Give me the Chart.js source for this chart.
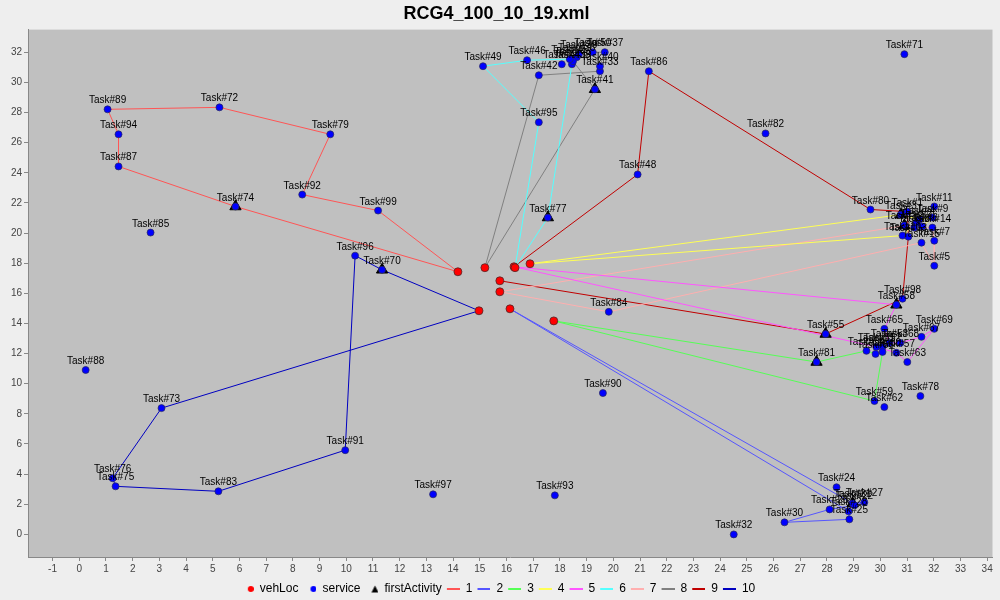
<!DOCTYPE html>
<html><head><meta charset="utf-8">
<script src="https://cdn.jsdelivr.net/npm/chart.js@4.4.1/dist/chart.umd.min.js"></script>
<style>html,body{margin:0;padding:0;background:#EEEEEE;}canvas{display:block;}</style>
</head><body>
<canvas id="c" width="1000" height="600"></canvas>
<script>
const chartTitle = "RCG4_100_10_19.xml";

const taskNames = ["Task#1","Task#2","Task#3","Task#4","Task#5","Task#6","Task#7","Task#8","Task#9","Task#10",
  "Task#11","Task#12","Task#13","Task#14","Task#15","Task#21","Task#22","Task#24","Task#25","Task#26",
  "Task#27","Task#28","Task#30","Task#32","Task#33","Task#36","Task#37","Task#38","Task#39","Task#40",
  "Task#41","Task#42","Task#43","Task#44","Task#45","Task#46","Task#48","Task#49","Task#50","Task#51",
  "Task#52","Task#53","Task#54","Task#55","Task#56","Task#57","Task#58","Task#59","Task#60","Task#62",
  "Task#63","Task#65","Task#67","Task#68","Task#69","Task#70","Task#71","Task#72","Task#73","Task#74",
  "Task#75","Task#76","Task#77","Task#78","Task#79","Task#80","Task#81","Task#82","Task#83","Task#84",
  "Task#85","Task#86","Task#87","Task#88","Task#89","Task#90","Task#91","Task#92","Task#93","Task#94",
  "Task#95","Task#96","Task#97","Task#98","Task#99"];
const taskX = [31.01,31.35,30.77,31.46,32.02,31.57,32.02,31.27,31.95,30.83,
  32.02,30.9,31.05,31.95,31.54,28.96,29.03,28.36,28.84,28.1,
  29.4,28.81,26.41,24.51,19.5,18.63,19.68,18.45,18.71,19.5,
  19.31,17.21,18.49,18.07,18.37,16.77,20.91,15.12,19.23,29.85,
  30.08,30.34,29.48,27.95,29.82,30.6,30.6,29.78,30.08,30.15,
  31.01,30.15,31.54,30.75,32.02,11.34,30.9,5.25,3.08,5.85,
  1.36,1.25,17.55,31.5,9.4,29.63,27.61,25.7,5.21,19.83,
  2.67,21.33,1.47,0.24,1.06,19.61,9.96,8.35,17.81,1.47,
  17.21,10.33,13.25,30.83,11.19];
const taskY = [21.42,20.69,21.22,20.89,17.83,20.43,19.49,20.36,21.03,19.83,
  21.76,20.5,19.76,20.36,19.36,2.06,1.93,3.13,1.0,1.66,
  2.13,1.53,0.8,0.0,30.74,31.67,32.0,31.2,31.87,31.07,
  29.54,30.47,31.4,31.2,31.54,31.47,23.89,31.07,32.0,12.44,
  12.44,12.71,12.18,13.3,11.98,12.05,15.24,8.85,12.11,8.45,
  11.44,13.64,13.11,12.71,13.64,17.56,31.87,28.34,8.38,21.76,
  3.19,3.73,21.03,9.18,26.55,21.56,11.44,26.61,2.86,14.77,
  20.03,30.74,24.42,10.91,28.21,9.38,5.59,22.55,2.59,26.55,
  27.35,18.5,2.66,15.64,21.49];

const depotNames = ["D1","D2","D3","D4","D5","D6","D7","D8","D9","D10"];
const depotX = [14.18,16.13,17.77,16.88,16.28,16.32,15.75,15.19,15.75,14.97];
const depotY = [17.43,14.97,14.17,17.96,17.76,17.70,16.10,17.70,16.83,14.84];

const firstTasks = ["Task#74","Task#21","Task#81","Task#3","Task#58","Task#77","Task#12","Task#41","Task#55","Task#70"];

const routeLabels = ["1","2","3","4","5","6","7","8","9","10"];
const route1 = ["D1","Task#74","Task#87","Task#94","Task#89","Task#72","Task#79","Task#92","Task#99","D1"];
const route2 = ["D2","Task#21","Task#27","Task#22","Task#26","Task#30","Task#25","Task#28","D2"];
const route3 = ["D3","Task#81","Task#54","Task#56","Task#60","Task#59","D3"];
const route4 = ["D4","Task#3","Task#4","Task#9","Task#6","Task#2","Task#10","D4"];
const route5 = ["D5","Task#58","Task#65","Task#53","Task#68","Task#67","Task#69","Task#63","Task#57","Task#51","D5"];
const route6 = ["D6","Task#77","Task#38","Task#39","Task#36","Task#45","Task#46","Task#49","Task#95","D6"];
const route7 = ["D7","Task#12","Task#8","Task#14","Task#7","Task#5","Task#15","Task#84","D7"];
const route8 = ["D8","Task#41","Task#43","Task#50","Task#37","Task#40","Task#33","Task#42","D8"];
const route9 = ["D9","Task#55","Task#98","Task#13","Task#1","Task#80","Task#86","Task#48","D5"];
const route10 = ["D10","Task#70","Task#96","Task#91","Task#83","Task#75","Task#76","Task#73","D10"];
const routes = [route1,route2,route3,route4,route5,route6,route7,route8,route9,route10];

const routeColors = ["#FF5555","#5555FF","#55FF55","#FFFF55","#FF55FF","#55FFFF","#FFAFAF","#808080","#C00000","#0000C0"];

function lookup(name){
  let i = taskNames.indexOf(name);
  if (i >= 0) return {x: taskX[i], y: taskY[i]};
  i = depotNames.indexOf(name);
  return {x: depotX[i], y: depotY[i]};
}

const datasets = [];
datasets.push({label:"vehLoc", data: depotX.map((x,i)=>({x, y: depotY[i]})),
  pointStyle:'circle', pointRadius:4, backgroundColor:'#FF0000', borderColor:'rgba(70,40,40,0.75)', borderWidth:1, showLine:false});
datasets.push({label:"service", data: taskX.map((x,i)=>({x, y: taskY[i]})),
  pointStyle:'circle', pointRadius:3.5, backgroundColor:'#0000FF', borderColor:'rgba(40,40,90,0.7)', borderWidth:1, showLine:false});
datasets.push({label:"firstActivity", data: firstTasks.map(lookup),
  pointStyle:'triangle', pointRadius:6.5, backgroundColor:'#000000', borderColor:'#000000', borderWidth:1, showLine:false});
routes.forEach((r, k) => {
  datasets.push({label: routeLabels[k], data: r.map(lookup), showLine:true, pointRadius:0,
    borderColor: routeColors[k], backgroundColor: routeColors[k], borderWidth:1, fill:false, tension:0});
});

function iconCanvas(kind, color){
  const c = document.createElement('canvas');
  c.width = 16; c.height = 10;
  const g = c.getContext('2d');
  if (kind === 'dot'){
    g.fillStyle = color; g.beginPath(); g.arc(13, 5, 3, 0, Math.PI*2); g.fill();
  } else if (kind === 'tri'){
    g.fillStyle = color; g.beginPath(); g.moveTo(12.5, 1.5); g.lineTo(16, 8.5); g.lineTo(9, 8.5); g.closePath(); g.fill();
  } else {
    g.fillStyle = color; g.fillRect(3, 4, 13, 2);
  }
  return c;
}

const bgPlugin = {
  id: 'plotBg',
  beforeDraw(chart){
    const {ctx, chartArea:a} = chart;
    ctx.save(); ctx.fillStyle = '#C0C0C0';
    ctx.fillRect(a.left, a.top, a.right - a.left, a.bottom - a.top);
    ctx.restore();
  }
};
const labelPlugin = {
  id: 'taskLabels',
  afterDatasetsDraw(chart){
    const {ctx} = chart;
    const xs = chart.scales.x, ys = chart.scales.y;
    ctx.save();
    ctx.font = "10px 'Liberation Sans', Arial, sans-serif";
    ctx.fillStyle = '#000';
    ctx.textAlign = 'center';
    ctx.textBaseline = 'alphabetic';
    taskNames.forEach((n, i) => {
      ctx.fillText(n, xs.getPixelForValue(taskX[i]), ys.getPixelForValue(taskY[i]) - 6);
    });
    ctx.restore();
  }
};

Chart.defaults.font.family = "'Liberation Sans', Arial, sans-serif";
new Chart(document.getElementById('c'), {
  type: 'scatter',
  data: {datasets},
  options: {
    responsive: false, animation: false, devicePixelRatio: 1,
    layout: {padding: {left: 0, right: 7, top: 0, bottom: -5}},
    plugins: {
      tooltip: {enabled: false},
      title: {display: true, text: chartTitle, color: '#000', font: {size: 18, weight: 'bold'}, padding: {top: 3, bottom: 5}},
      legend: {
        position: 'bottom',
        labels: {
          usePointStyle: true, pointStyleWidth: 16, boxHeight: 10, padding: 2,
          color: '#000', font: {size: 12},
          generateLabels(chart){
            return chart.data.datasets.map((d, i) => {
              let kind = i === 0 || i === 1 ? 'dot' : (i === 2 ? 'tri' : 'line');
              return {text: d.label, pointStyle: iconCanvas(kind, d.backgroundColor), fillStyle: d.backgroundColor,
                strokeStyle: d.borderColor, lineWidth: 0, hidden: false, datasetIndex: i, fontColor: '#000'};
            });
          }
        }
      }
    },
    scales: {
      x: {
        type: 'linear', min: -1.92, max: 34.2,
        afterFit(s){ s.height = 24; },
        ticks: {stepSize: 1, includeBounds: false, autoSkip: false, maxRotation: 0, color: '#444', font: {size: 10}, padding: 2},
        grid: {drawOnChartArea: false, drawTicks: true, tickLength: 4, color: '#888'},
        border: {display: true, color: '#888'}
      },
      y: {
        type: 'linear', min: -1.5, max: 33.5,
        afterFit(s){ s.width = 28; },
        ticks: {stepSize: 2, includeBounds: false, color: '#444', font: {size: 10}, padding: 2},
        grid: {drawOnChartArea: false, drawTicks: true, tickLength: 4, color: '#888'},
        border: {display: true, color: '#888'}
      }
    }
  },
  plugins: [bgPlugin, labelPlugin]
});
</script>
</body></html>
